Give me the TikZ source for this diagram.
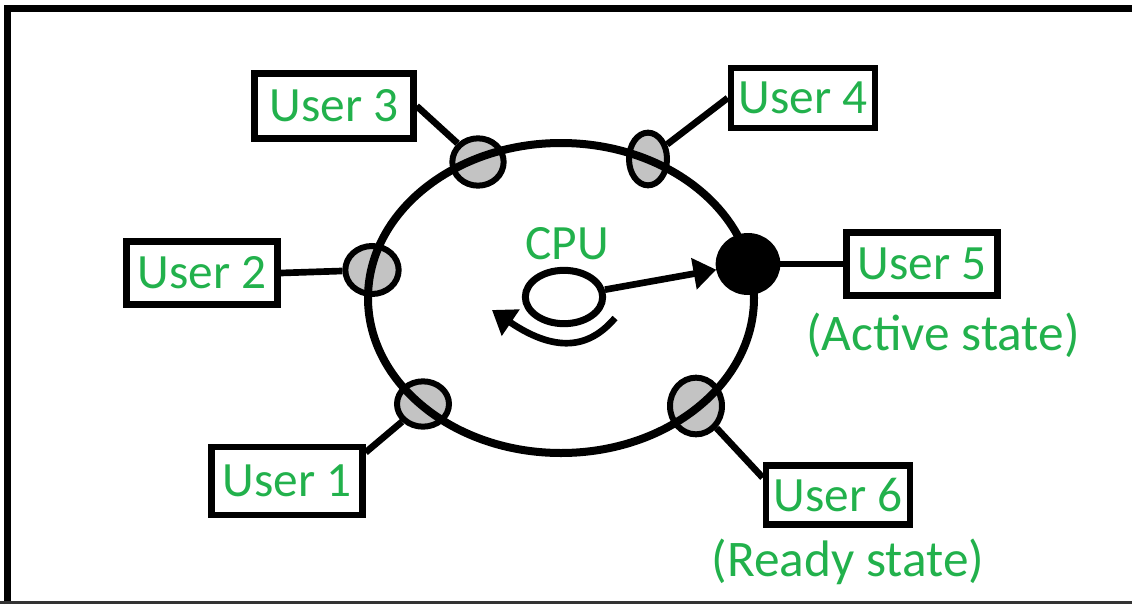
\documentclass[tikz,border=0pt]{standalone}
\usepackage{fontspec}
\setmainfont{Carlito}
\usepackage{xcolor}
\usetikzlibrary{shapes.geometric,arrows.meta}
\definecolor{paintgreen}{RGB}{34,177,76}
\definecolor{portgray}{RGB}{195,195,195}

\begin{document}
\begin{tikzpicture}[x=0.75pt,y=-0.75pt,
	every node/.style={font=\fontsize{37}{42}\selectfont},
	userbox/.style={draw,line width=5pt,text=paintgreen,inner sep=0pt,minimum width=113pt,minimum height=47pt},
	port/.style={draw,ellipse,fill=portgray,line width=4.5pt,inner sep=0pt},
	greenlabel/.style={text=paintgreen,inner sep=0pt},
	wire/.style={line width=5pt}]
	\useasboundingbox (0,0) rectangle (1132,604);
	% frame
	\draw[line width=5.25pt] (7.5,604) -- (7.5,8.5) -- (1132,8.5);
	\draw[line width=2pt,black!80] (0,602.5) -- (1132,602.5);

	\coordinate (c0) at (561,298);
	\coordinate (o1) at (423,404);
	\coordinate (o2) at (372,270);
	\coordinate (o3) at (478,162);
	\coordinate (o4) at (648,159);
	\coordinate (o5) at (748,264);
	\coordinate (o6) at (696,406);
	\coordinate (n1) at (287,481);
	\coordinate (n2) at (202,273);
	\coordinate (n3) at (334,106);
	\coordinate (n4) at (803,98);
	\coordinate (n5) at (922,264);
	\coordinate (n6) at (838,495);
	\coordinate (loopstart) at (615,318);
	\coordinate (loopend) at (492,310);

	% ports on the ring
	\node (p1) at (o1) [port,minimum width=39pt,minimum height=34pt] {};
	\node (p2) at (o2) [port,minimum width=40pt,minimum height=36pt] {};
	\node (p3) at (o3) [port,minimum width=38.5pt,minimum height=35.5pt] {};
	\node (p4) at (o4) [port,minimum width=28.5pt,minimum height=39.5pt] {};
	\node (p5) at (o5) [port,fill=black,minimum width=44pt,minimum height=42pt] {};
	\node (p6) at (o6) [port,minimum width=39pt,minimum height=42.5pt] {};

	\node (ring) at (c0) [draw,ellipse,line width=6pt,inner sep=0pt,minimum width=289.5pt,minimum height=232.5pt] {};

	% users
	\node (u1) at (n1) [userbox,minimum height=51pt] {User 1};
	\node (u2) at (n2) [userbox] {User 2};
	\node (u3) at (n3) [userbox,minimum width=119pt,minimum height=49pt] {User 3};
	\node (u4) at (n4) [userbox,minimum width=108pt,minimum height=45pt] {User 4};
	\node (u5) at (n5) [userbox] {User 5};
	\node (u6) at (n6) [userbox,minimum width=108pt,minimum height=44pt] {User 6};

	\node (active) at (943,335) [greenlabel,font=\fontsize{38.5}{44}\selectfont] {(Active state)};
	\node (ready) at (848,562) [greenlabel,font=\fontsize{38.5}{44}\selectfont] {(Ready state)};

	\draw[wire] (u1.20) -- (p1);
	\draw[wire] (u2.east) -- (p2);
	\draw[wire] (u3.east) -- (p3);
	\draw[wire] (u4.west) -- (p4);
	\draw[wire] (u5.west) -- (p5);
	\draw[wire] (u6.167) -- (p6);

	% cpu
	\node (cpulabel) at (567,244) [greenlabel] {CPU};
	\node (cpu) at (564,297) [draw,ellipse,line width=5.25pt,inner sep=0pt,minimum width=58pt,minimum height=40pt] {};
	\draw[wire,-{Triangle[length=17pt,width=23pt]}] (cpu) -- (p5);
	\draw[wire,-{Triangle[length=17pt,width=23pt]}] (loopstart) .. controls (592,345) and (560,356) .. (loopend);
\end{tikzpicture}
\end{document}
